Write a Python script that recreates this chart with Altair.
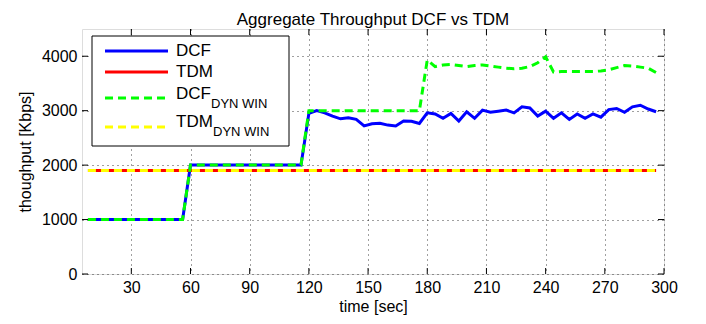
import altair as alt
import pandas as pd

# ---------------- data ----------------
time = [8, 12, 16, 20, 24, 28, 32, 36, 40, 44, 48, 52, 56,
        60, 64, 68, 72, 76, 80, 84, 88, 92, 96, 100, 104, 108, 112, 116,
        120, 124, 128, 132, 136, 140, 144, 148, 152, 156, 160, 164, 168, 172, 176,
        180, 184, 188, 192, 196, 200, 204, 208, 212, 216, 220, 224, 228, 232, 236,
        240, 244, 248, 252, 256, 260, 264, 268, 272, 276, 280, 284, 288, 292, 296]

dcf = [1000, 1000, 1000, 1000, 1000, 1000, 1000, 1000, 1000, 1000, 1000, 1000, 1000,
       2000, 2000, 2000, 2000, 2000, 2000, 2000, 2000, 2000, 2000, 2000, 2000, 2000, 2000, 2000,
       2950, 3000, 2960, 2900, 2850, 2870, 2840, 2720, 2760, 2770, 2735, 2720, 2810, 2805, 2765,
       2960, 2940, 2860, 2950, 2810, 2980, 2860, 3010, 2970, 2990, 3010, 2960, 3070, 3050, 2900,
       2990, 2860, 2960, 2840, 2940, 2860, 2940, 2880, 3020, 3040, 2970, 3070, 3100, 3030, 2980]

dcf_dyn = [1000, 1000, 1000, 1000, 1000, 1000, 1000, 1000, 1000, 1000, 1000, 1000, 1000,
           2000, 2000, 2000, 2000, 2000, 2000, 2000, 2000, 2000, 2000, 2000, 2000, 2000, 2000, 2000,
           3000, 3000, 3000, 3000, 3000, 3000, 3000, 3000, 3000, 3000, 3000, 3000, 3000, 3000, 3000,
           3930, 3810, 3840, 3850, 3830, 3810, 3830, 3840, 3820, 3800, 3780, 3770, 3780, 3810, 3880,
           3990, 3710, 3720, 3720, 3720, 3720, 3720, 3730, 3750, 3790, 3830, 3820, 3800, 3780, 3700]

tdm_level = 1900
tdm = [tdm_level] * len(time)
tdm_dyn = [tdm_level] * len(time)

x_ticks = [30, 60, 90, 120, 150, 180, 210, 240, 270, 300]
y_ticks = [0, 1000, 2000, 3000, 4000]

series_names = ["DCF", "TDM", "DCF", "TDM"]
series_subs = ["", "", "DYN WIN", "DYN WIN"]
series_colors = ["#0000FF", "#FF0000", "#00FF00", "#FFFF00"]

# ---------------- chart ----------------
W, H = 582, 245
FONT = "Liberation Sans"
FS = 16
XT = "time [sec]"
YT = "thoughput [Kbps]"

df = pd.DataFrame({"time": time, "DCF": dcf, "TDM": tdm,
                   "DCF_DYN": dcf_dyn, "TDM_DYN": tdm_dyn})

xs = alt.Scale(domain=[5, 300], nice=False, zero=False)
ys = alt.Scale(domain=[0, 4500], nice=False, zero=False)

grid_kw = dict(grid=True, gridColor="#000000", gridDash=[1, 4], gridOpacity=0.75,
               gridWidth=1, ticks=False, domain=False, labelFont=FONT,
               labelFontSize=FS, labelColor="#000000", titleFont=FONT,
               titleFontSize=FS, titleFontWeight="normal", titleColor="#000000",
               labelFlush=False, format="d")

x_axis = alt.Axis(values=x_ticks, labelPadding=5, titlePadding=3, **grid_kw)
y_axis = alt.Axis(values=y_ticks, labelPadding=5, titlePadding=8, **grid_kw)

base = alt.Chart(df)


def line(col, color, dash=None):
    kw = dict(color=color, strokeWidth=3)
    if dash:
        kw["strokeDash"] = dash
    return base.mark_line(**kw).encode(
        x=alt.X("time:Q", scale=xs, axis=x_axis, title=XT),
        y=alt.Y(f"{col}:Q", scale=ys, axis=y_axis, title=YT),
    )


l_dcf = line("DCF", series_colors[0])
l_tdm = line("TDM", series_colors[1])
l_dcfd = line("DCF_DYN", series_colors[2], dash=[8, 5])
l_tdmd = line("TDM_DYN", series_colors[3], dash=[8, 5])

# inward tick marks (MATLAB style) on all four sides
xt = alt.Chart(pd.DataFrame({"time": x_ticks}))
yt = alt.Chart(pd.DataFrame({"v": y_ticks}))
TL = 6
XE = alt.X("time:Q", scale=xs, axis=x_axis, title=XT)
YE = alt.Y("v:Q", scale=ys, axis=y_axis, title=YT)
ticks = [
    xt.mark_rule(color="black").encode(x=XE, y=alt.value(H), y2=alt.value(H - TL)),
    xt.mark_rule(color="black").encode(x=XE, y=alt.value(0), y2=alt.value(TL)),
    yt.mark_rule(color="black").encode(y=YE, x=alt.value(0), x2=alt.value(TL)),
    yt.mark_rule(color="black").encode(y=YE, x=alt.value(W - TL), x2=alt.value(W)),
]

# custom legend with subscripts
one = alt.Chart(pd.DataFrame({"k": [0]}))
legend_layers = [
    one.mark_rect(fill="white", stroke="black", strokeWidth=1).encode(
        x=alt.value(10), x2=alt.value(207), y=alt.value(7), y2=alt.value(117))
]
line_y = [22, 43, 69, 98]
text_y = [22, 43, 65, 93]
sub_y = [None, None, 75, 103]
sub_x = [None, None, 129, 131]
for i in range(4):
    kw = dict(color=series_colors[i], strokeWidth=3)
    if i >= 2:
        kw["strokeDash"] = [8, 5]
    legend_layers.append(one.mark_rule(**kw).encode(
        x=alt.value(23), x2=alt.value(86), y=alt.value(line_y[i])))
    legend_layers.append(one.mark_text(align="left", baseline="middle", font=FONT,
                                       fontSize=FS + 1, color="black").encode(
        x=alt.value(94), y=alt.value(text_y[i]), text=alt.value(series_names[i])))
    if series_subs[i]:
        legend_layers.append(one.mark_text(align="left", baseline="middle", font=FONT,
                                           fontSize=13, color="black").encode(
            x=alt.value(sub_x[i]), y=alt.value(sub_y[i]), text=alt.value(series_subs[i])))

chart = alt.layer(l_dcf, l_tdm, l_dcfd, l_tdmd, *ticks, *legend_layers).properties(
    width=W, height=H,
    title=alt.TitleParams("Aggregate Throughput DCF vs TDM", font=FONT, fontSize=17,
                          fontWeight="normal", color="black", offset=0),
    autosize=alt.AutoSizeParams(type="none"),
    padding={"left": 74, "top": 21, "right": 30, "bottom": 48},
).configure_view(stroke="black", strokeWidth=1.2).configure(background="white")

chart.save("out.html", embed_options={"renderer": "svg", "actions": False})
